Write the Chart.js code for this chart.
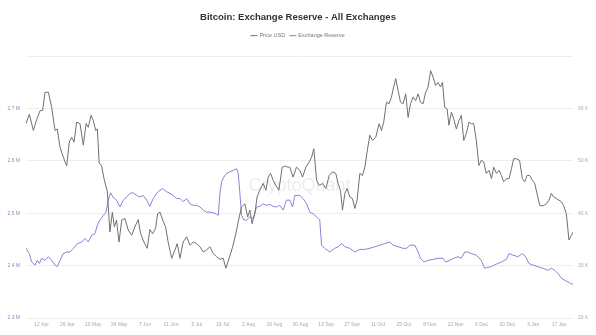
<!DOCTYPE html>
<html>
<head>
<meta charset="utf-8">
<script src="https://cdn.jsdelivr.net/npm/chart.js@4.4.1/dist/chart.umd.min.js"></script>
<style>
  html, body { margin: 0; padding: 0; background: #fff; }
  #wrap { width: 596px; height: 335px; }
</style>
</head>
<body>
<div id="wrap"><canvas id="chart"></canvas></div>
<script>
// x = days since 12 Apr 2021
const tickDays = [0, 14, 28, 42, 56, 70, 84, 98, 112, 126, 140, 154, 168, 182, 196, 210, 224, 238, 252, 266, 280];
const tickLabels = ['12 Apr', '26 Apr', '10 May', '24 May', '7 Jun', '21 Jun', '5 Jul', '19 Jul', '2 Aug', '16 Aug',
  '30 Aug', '13 Sep', '27 Sep', '11 Oct', '25 Oct', '8 Nov', '22 Nov', '6 Dec', '20 Dec', '3 Jan', '17 Jan'];

// Price USD (K)
const priceDays = [-8.4,-6.6,-4.4,-2.6,-0.8,0.6,1.9,3.7,5.5,7.3,
  8.5,10.0,11.8,13.6,15.0,16.3,17.6,19.0,20.8,22.6,
  24.1,25.3,26.8,28.0,29.3,30.2,31.2,32.5,33.8,35.6,
  37.0,38.3,39.4,40.6,41.9,43.4,45.1,46.9,48.8,50.5,
  52.3,53.6,55.4,57.2,58.6,60.1,61.7,62.8,64.1,65.5,
  67.1,68.5,70.4,72.2,73.4,74.9,76.6,78.5,80.3,82.1,
  83.9,85.7,87.5,89.3,91.1,92.9,94.7,96.5,98.3,99.7,
  101.5,103.4,105.1,106.6,108.2,110.0,111.5,112.7,113.9,115.4,
  116.6,118.1,119.9,121.4,122.6,123.9,125.3,126.8,128.4,130.2,
  131.6,133.1,134.3,136.1,137.9,139.7,141.2,143.0,144.8,146.1,
  147.3,148.8,150.2,152.0,153.8,155.6,157.4,159.2,160.4,161.7,
  162.8,164.1,165.3,166.8,168.2,169.5,170.7,172.2,173.6,174.9,
  176.1,177.6,179.0,180.8,182.6,183.9,185.1,186.6,188.0,189.3,
  190.5,191.6,192.9,194.2,195.6,197.0,198.3,199.6,201.0,202.4,
  203.7,205.0,206.4,207.8,209.1,210.5,211.8,213.2,214.5,215.8,
  216.9,218.1,219.4,220.4,221.7,223.0,224.4,225.8,227.1,228.4,
  229.8,231.2,232.5,233.8,235.2,236.6,237.9,239.2,240.6,242.1,
  243.4,244.6,246.1,247.5,248.8,250.0,251.5,252.9,254.2,255.4,
  256.9,258.6,260.1,261.4,262.6,264.1,265.5,266.8,268.0,269.5,
  271.2,273.1,274.5,275.8,277.0,278.5,279.9,281.2,282.4,283.9,
  285.3,286.6,287.5];
const priceUsd = [57.1,58.9,55.8,57.9,59.6,59.6,63.1,63.1,60.2,55.8,
  56.1,52.6,50.7,49.0,53.6,54.5,53.6,57.4,57.1,53.0,
  57.1,56.4,58.7,57.7,55.8,56.1,49.5,49.1,46.6,44.1,
  36.4,40.2,37.4,38.7,34.5,38.7,39.0,36.8,35.8,37.4,
  38.8,36.1,34.5,33.3,36.9,36.1,37.1,39.9,40.2,38.7,
  37.4,34.5,31.4,33.0,34.2,31.4,34.5,35.5,33.9,34.5,
  34.2,33.6,32.6,33.0,33.6,32.3,31.7,31.2,31.4,29.5,
  31.4,33.6,36.1,38.7,41.2,41.8,39.3,40.6,38.0,39.9,
  43.1,44.4,45.7,44.4,46.9,47.6,46.3,45.3,44.4,48.8,
  49.0,48.8,48.8,46.9,48.8,48.2,46.9,48.8,49.8,50.7,
  52.3,46.3,45.3,45.7,44.7,47.2,47.9,47.6,45.7,44.4,
  40.6,43.8,44.7,43.1,42.8,40.9,42.5,47.6,47.2,48.8,
  51.7,54.9,53.9,54.5,57.1,55.8,57.4,61.2,60.9,62.2,
  64.1,65.7,63.4,61.2,60.9,62.8,58.3,60.9,62.2,61.5,
  62.8,61.2,60.9,63.1,64.1,67.2,66.0,64.4,65.0,64.1,
  65.0,60.2,59.9,56.8,59.3,58.0,56.1,57.7,58.7,53.9,
  55.2,57.4,57.1,57.1,53.9,49.1,50.1,49.8,47.6,48.2,
  46.6,48.8,47.6,48.2,47.2,46.0,46.6,46.6,48.5,50.4,
  50.4,50.1,46.6,46.0,47.2,47.2,46.3,45.7,43.8,41.5,
  41.4,41.8,42.5,43.8,43.1,42.8,42.5,42.2,41.5,39.9,
  34.9,35.8,36.4];

// Exchange Reserve (M BTC)
const reserveDays = [-8.4,-6.6,-5.3,-3.5,-2.3,-1.2,0.1,1.9,3.7,5.5,
  7.3,8.5,10.0,11.8,13.6,15.4,17.2,19.4,21.7,23.5,
  25.3,27.1,28.9,30.2,31.6,33.4,34.9,36.1,37.4,38.8,
  40.6,42.4,44.2,46.1,47.8,49.6,51.5,53.2,55.0,56.9,
  58.6,60.4,62.3,64.1,65.5,67.7,69.5,71.2,73.1,74.9,
  76.6,78.5,80.3,82.1,83.9,85.7,87.5,89.3,91.1,92.9,
  94.7,95.6,96.5,97.4,98.6,100.1,101.9,103.7,105.5,106.4,
  107.3,108.2,109.5,110.9,112.7,114.5,116.3,118.1,119.9,121.7,
  123.5,125.3,127.1,128.9,130.7,132.5,134.3,135.8,137.0,138.8,
  139.7,141.5,143.4,145.1,146.9,148.8,150.5,151.5,153.2,155.9,
  158.6,160.4,162.3,164.1,166.8,169.5,172.2,174.9,177.6,180.3,
  183.0,185.7,188.4,190.2,192.9,195.6,197.4,199.2,201.9,203.7,
  205.0,206.8,209.1,211.8,214.5,217.2,218.6,220.8,223.0,225.3,
  227.1,228.9,230.7,232.5,235.2,237.9,239.7,241.5,243.4,246.1,
  248.8,251.5,252.9,255.0,257.7,260.1,261.9,263.7,265.8,268.5,
  271.2,273.9,275.8,277.6,279.4,281.2,283.0,284.8,286.6,287.5];
const reserveBtc = [2.433,2.423,2.407,2.401,2.410,2.404,2.414,2.410,2.417,2.410,
  2.401,2.398,2.410,2.423,2.426,2.426,2.433,2.442,2.445,2.452,
  2.445,2.458,2.461,2.477,2.487,2.496,2.502,2.525,2.539,2.530,
  2.525,2.512,2.525,2.531,2.538,2.539,2.534,2.531,2.534,2.525,
  2.513,2.528,2.538,2.544,2.547,2.541,2.538,2.534,2.528,2.528,
  2.522,2.528,2.518,2.515,2.515,2.512,2.506,2.502,2.502,2.501,
  2.498,2.496,2.538,2.560,2.569,2.576,2.579,2.582,2.585,2.576,
  2.538,2.496,2.487,2.487,2.493,2.490,2.512,2.513,2.518,2.515,
  2.517,2.513,2.512,2.515,2.506,2.525,2.525,2.512,2.534,2.534,
  2.534,2.528,2.518,2.502,2.499,2.493,2.487,2.439,2.433,2.426,
  2.433,2.436,2.442,2.436,2.433,2.426,2.431,2.431,2.433,2.436,
  2.439,2.442,2.445,2.439,2.436,2.433,2.433,2.439,2.439,2.426,
  2.414,2.407,2.410,2.412,2.414,2.414,2.407,2.410,2.414,2.417,
  2.414,2.426,2.426,2.423,2.420,2.410,2.395,2.397,2.398,2.403,
  2.407,2.412,2.423,2.420,2.417,2.423,2.417,2.404,2.401,2.398,
  2.395,2.391,2.395,2.391,2.385,2.376,2.372,2.369,2.365,2.365];

const FONT = "'Liberation Sans', Arial, sans-serif";

// faint CryptoQuant watermark behind the lines
const watermark = {
  id: 'watermark',
  beforeDatasetsDraw(chart) {
    const { ctx, chartArea } = chart;
    ctx.save();
    ctx.font = '18px ' + FONT;
    ctx.fillStyle = 'rgba(0,0,0,0.08)';
    ctx.textAlign = 'center';
    ctx.textBaseline = 'middle';
    ctx.fillText('CryptoQuant', (chartArea.left + chartArea.right) / 2, 186);
    ctx.restore();
  }
};

// extra room under the legend, before the plot starts
const legendGap = {
  id: 'legendGap',
  beforeLayout(chart) {
    const lg = chart.legend;
    if (lg && !lg._gapPatched) {
      const fit = lg.fit;
      lg.fit = function () { fit.call(this); this.height += 7.7; };
      lg._gapPatched = true;
    }
  }
};

new Chart(document.getElementById('chart'), {
  type: 'line',
  data: {
    datasets: [
      {
        label: 'Price USD',
        data: priceDays.map((d, i) => ({ x: d, y: priceUsd[i] })),
        borderColor: '#707070',
        borderWidth: 1,
        pointRadius: 0,
        tension: 0,
        yAxisID: 'y1'
      },
      {
        label: 'Exchange Reserve',
        data: reserveDays.map((d, i) => ({ x: d, y: reserveBtc[i] })),
        borderColor: '#8784d4',
        borderWidth: 1,
        pointRadius: 0,
        tension: 0,
        yAxisID: 'y'
      }
    ]
  },
  options: {
    responsive: true,
    maintainAspectRatio: false,
    animation: false,
    layout: { padding: 0 },
    plugins: {
      title: {
        display: true,
        text: 'Bitcoin: Exchange Reserve - All Exchanges',
        color: '#333',
        font: { family: FONT, size: 9.5, weight: 'bold' },
        padding: { top: 12, bottom: 4.5 }
      },
      legend: {
        display: true,
        labels: {
          usePointStyle: true,
          pointStyle: 'line',
          boxWidth: 6,
          boxHeight: 5,
          padding: 5,
          color: '#777',
          font: { family: FONT, size: 5.5 }
        }
      },
      tooltip: { enabled: false }
    },
    scales: {
      x: {
        type: 'linear',
        min: priceDays[0],
        max: priceDays[priceDays.length - 1],
        grid: { display: false, drawTicks: false },
        border: { display: false },
        afterBuildTicks: axis => { axis.ticks = tickDays.map(v => ({ value: v })); },
        afterFit: axis => { axis.height = 17; },
        ticks: {
          autoSkip: false,
          maxRotation: 0,
          padding: 4,
          color: '#aaa',
          font: { family: FONT, size: 5 },
          callback: (v, i) => tickLabels[i]
        }
      },
      y: {
        position: 'left',
        min: 2.3,
        max: 2.8,
        grid: { color: '#eeeeee', lineWidth: 1, drawTicks: false },
        border: { display: false },
        afterFit: axis => { axis.width = 26; },
        ticks: {
          stepSize: 0.1,
          padding: 6,
          color: '#8a88c8',
          font: { family: FONT, size: 5 },
          callback: v => (v > 2.79 ? '' : v.toFixed(1) + ' M')
        }
      },
      y1: {
        position: 'right',
        min: 20,
        max: 70,
        grid: { drawOnChartArea: false, drawTicks: false },
        border: { display: false },
        afterFit: axis => { axis.width = 23; },
        ticks: {
          stepSize: 10,
          padding: 5,
          color: '#aaa',
          font: { family: FONT, size: 5 },
          callback: v => (v >= 70 ? '' : v + ' K')
        }
      }
    }
  },
  plugins: [watermark, legendGap]
});
</script>
</body>
</html>
